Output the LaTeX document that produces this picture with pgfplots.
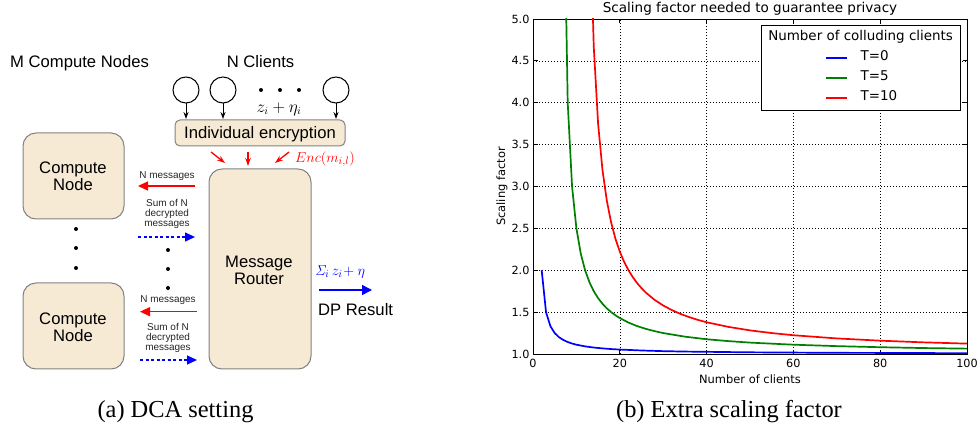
\documentclass[border=0pt]{standalone}
\usepackage{amsmath}
\usepackage[no-math]{fontspec}
\usepackage{pgfplots}
\pgfplotsset{compat=1.18}
\usetikzlibrary{arrows.meta}
\setmainfont{Liberation Serif}
\newfontfamily\arial{Liberation Sans}
\newfontfamily\dejavu{DejaVu Sans}
\definecolor{boxfill}{RGB}{246,234,213}
\definecolor{boxline}{RGB}{130,130,130}
\definecolor{mplgreen}{RGB}{0,128,0}
\begin{document}
\begin{tikzpicture}
\useasboundingbox (0,0) rectangle (980bp,425bp);
\begin{scope}[x=1bp,y=1bp]
\tikzset{
  ab/.style={font=\arial\fontsize{16.7}{17}\selectfont, inner sep=0pt, anchor=base},
  sm/.style={font=\arial\fontsize{10}{10}\selectfont, inner sep=0pt, anchor=base, text=black!85},
  bx/.style={draw=boxline, fill=boxfill, line width=1bp},
  redarr/.style={red, line width=1.3bp, -{Triangle[length=10bp,width=9bp]}},
  bluearr/.style={blue, line width=1.3bp, dash pattern=on 3bp off 2.5bp, -{Triangle[length=10bp,width=9bp]}},
  encarr/.style={red, line width=1.3bp, -{Stealth[length=8bp,width=5.5bp]}},
  blk/.style={black, line width=1bp, -{Stealth[length=7bp,width=5bp]}}
}
% headers
\node[ab, anchor=base west] at (10,358) {M Compute Nodes};
\node[ab] at (260.5,358) {N Clients};
% clients
\draw[line width=1bp] (186,335) circle (13);
\draw[line width=1bp] (223,335) circle (13);
\draw[line width=1bp] (336,335) circle (13);
\fill (261,335) circle (2);
\fill (280,335) circle (2);
\fill (299,335) circle (2);
\draw[blk] (186,322) -- (186,306);
\draw[blk] (223,322) -- (223,306);
\draw[blk] (336,322) -- (336,306);
\node[font=\fontsize{16}{18}\selectfont, inner sep=0pt, anchor=base] at (279,313) {$z_i+\eta_i$};
% individual encryption
\draw[bx, rounded corners=5bp] (175,279) rectangle (345,305);
\node[ab] at (260,287) {Individual encryption};
\draw[encarr] (211,273) -- (225,262);
\draw[encarr] (248,273) -- (248,259);
\draw[encarr] (289,273) -- (275,262);
\node[red, font=\fontsize{15}{18}\selectfont, inner sep=0pt, anchor=base west] at (295,263) {$Enc(m_{i,l})$};
% compute nodes
\draw[bx, rounded corners=13bp] (23,206) rectangle (124,292);
\node[ab] at (73,251.7) {Compute};
\node[ab] at (73,235) {Node};
\draw[bx, rounded corners=13bp] (23,56) rectangle (124,142);
\node[ab] at (73,100.3) {Compute};
\node[ab] at (73,83.6) {Node};
\fill (76,196) circle (2);
\fill (76,177) circle (2);
\fill (76,157) circle (2);
% router
\draw[bx, rounded corners=13bp] (209,56) rectangle (311,256);
\node[ab] at (259,158) {Message};
\node[ab] at (259,141) {Router};
% messages group 1
\node[sm] at (167,247) {N messages};
\draw[redarr] (195,239) -- (138,239);
\node[sm] at (167,218.3) {Sum of N};
\node[sm] at (167,208.3) {decrypted};
\node[sm] at (167,198.3) {messages};
\draw[bluearr] (138,188) -- (195,188);
% middle dots
\fill (168,175) circle (2);
\fill (168,156) circle (2);
\fill (168,137) circle (2);
% messages group 2
\node[sm] at (168,122.3) {N messages};
\draw[redarr] (197,113.3) -- (140,113.3);
\node[sm] at (168,95) {Sum of N};
\node[sm] at (168,85) {decrypted};
\node[sm] at (168,75) {messages};
\draw[bluearr] (140,65) -- (197,65);
% output
\node[blue, font=\fontsize{15}{18}\selectfont, inner sep=0pt, anchor=base west] at (315,150) {$\mathit{\Sigma}_i\, z_i\!+\eta$};
\draw[blue, line width=1.5bp, -{Triangle[length=10bp,width=10bp]}] (319,135) -- (372,135);
\node[ab, anchor=base west] at (318,110) {DP Result};
% captions
\node[font=\fontsize{24.5}{28}\selectfont, inner sep=0pt, anchor=base] at (175.5,8) {(a)\ DCA setting};
\node[font=\fontsize{24.5}{28}\selectfont, inner sep=0pt, anchor=base] at (729,8) {(b)\ Extra scaling factor};
\end{scope}

\begin{axis}[
  at={(533bp,71bp)}, anchor=south west,
  width=434bp, height=335bp, scale only axis,
  xmin=0, xmax=100, ymin=1, ymax=5,
  xtick={0,20,40,60,80,100}, ytick={1,1.5,2,2.5,3,3.5,4,4.5,5},
  grid=major,
  major grid style={black, line width=0.6bp, dash pattern=on 0.8bp off 2.2bp},
  axis line style={line width=0.9bp},
  tick style={black, line width=0.8bp},
  major tick length=4.5bp,
  tick align=inside,
  /pgf/number format/assume math mode=true,
  tick label style={font=\dejavu\fontsize{11.3}{13}\selectfont},
  yticklabel style={/pgf/number format/.cd, fixed, fixed zerofill, precision=1},
  xticklabel style={yshift=-2bp},
  every axis title shift=0pt,
  title={Scaling factor needed to guarantee privacy},
  title style={font=\dejavu\fontsize{13.6}{16}\selectfont, at={(axis description cs:0.5,1.018)}, anchor=base},
  xlabel={Number of clients},
  ylabel={Scaling factor},
  xlabel style={font=\dejavu\fontsize{11.5}{13}\selectfont, at={(axis description cs:0.5,-0.0866)}, anchor=base},
  ylabel style={font=\dejavu\fontsize{11.5}{13}\selectfont, at={(axis description cs:-0.0645,0.5)}, anchor=base},
  legend style={at={(axis description cs:0.9862,0.9821)}, anchor=north east,
    draw=black, line width=0.9bp, fill=white,
    font=\dejavu\fontsize{13.5}{16}\selectfont,
    minimum width=199bp, inner xsep=0bp, inner ysep=6bp,
    row sep=7bp, column sep=13bp,
    nodes={minimum width=0bp, minimum height=0bp, inner sep=0bp, text height=9.5bp, text depth=3.5bp}},
  legend cell align=left,
  legend image code/.code={\draw[#1] (0bp,0bp) -- (21bp,0bp);},
]
\addlegendimage{empty legend}
\addlegendentry{\makebox[0pt]{Number of colluding clients}}

\addplot[blue, line width=1.7bp] coordinates {
(2,2.000) (3,1.500) (4,1.333) (5,1.250) (6,1.200) (7,1.167) (8,1.143) (9,1.125)
(10,1.111) (12,1.091) (14,1.077) (16,1.067) (18,1.059) (20,1.053) (25,1.042)
(30,1.034) (35,1.029) (40,1.026) (50,1.020) (60,1.017) (70,1.014) (80,1.013)
(90,1.011) (100,1.010)};
\addlegendentry{T=0}

\addplot[mplgreen, line width=1.7bp] coordinates {
(7,7.000) (8,4.000) (9,3.000) (10,2.500) (11,2.200) (12,2.000) (13,1.857)
(14,1.750) (15,1.667) (16,1.600) (17,1.545) (18,1.500) (19,1.462) (20,1.429)
(22,1.375) (24,1.333) (26,1.300) (28,1.273) (30,1.250) (35,1.207) (40,1.176)
(45,1.154) (50,1.136) (60,1.111) (70,1.094) (80,1.081) (90,1.071) (100,1.064)};
\addlegendentry{T=5}

\addplot[red, line width=1.7bp] coordinates {
(12,12.000) (13,6.500) (14,4.667) (15,3.750) (16,3.200) (17,2.833) (18,2.571)
(19,2.375) (20,2.222) (21,2.100) (22,2.000) (23,1.917) (24,1.846) (25,1.786)
(26,1.733) (28,1.647) (30,1.579) (32,1.524) (34,1.478) (36,1.440) (38,1.407)
(40,1.379) (45,1.324) (50,1.282) (55,1.250) (60,1.224) (70,1.186) (80,1.159)
(90,1.139) (100,1.124)};
\addlegendentry{T=10}
\end{axis}
\end{tikzpicture}
\end{document}
